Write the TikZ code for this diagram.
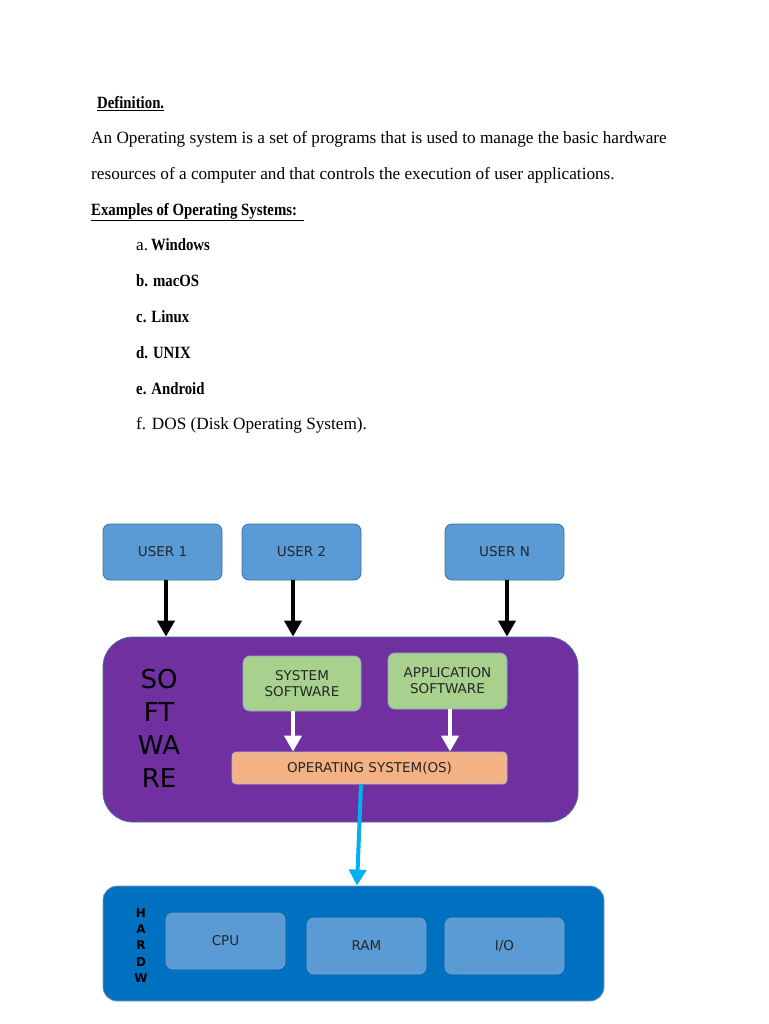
\documentclass[tikz,border=0pt]{standalone}
\usepackage{fontspec}
\setmainfont{Liberation Serif}
\newfontfamily\dv{DejaVu Sans}
\usetikzlibrary{arrows.meta}
\definecolor{userfill}{HTML}{5B9BD5}
\definecolor{userdraw}{HTML}{41719C}
\definecolor{swfill}{HTML}{7030A0}
\definecolor{greenfill}{HTML}{A9D18E}
\definecolor{osfill}{HTML}{F4B183}
\definecolor{hwfill}{HTML}{0070C0}
\definecolor{cyanarrow}{HTML}{00B0F0}
\newcommand{\rsz}{\fontsize{17.2}{20}\selectfont}
\newcommand{\nb}[1]{\scalebox{0.86}[1]{\textbf{#1}}}
\tikzset{
  body/.style={anchor=base west, inner sep=0pt, font=\rsz},
  blk/.style={rectangle, rounded corners=7pt, draw=userdraw, line width=0.8pt, inner sep=0pt, font=\dv\fontsize{13.5}{16}\selectfont, align=center, text=black!85},
  userbox/.style={blk, fill=userfill, minimum width=119pt, minimum height=56pt},
  greenbox/.style={blk, fill=greenfill, draw=userdraw!60, minimum width=118pt, minimum height=55pt},
  blackarrow/.style={line width=4pt, -{Triangle[length=16pt,width=17pt]}},
  whitearrow/.style={line width=4pt, white, -{Triangle[length=16pt,width=17pt]}},
  cyanarr/.style={line width=4pt, cyanarrow, -{Triangle[length=16pt,width=17pt]}},
}
\begin{document}
\begin{tikzpicture}[x=1pt,y=-1pt]
\useasboundingbox[fill=white] (0,0) rectangle (768,1024);
% text
\node[body] (def) at (97,108.5) {\nb{\underline{Definition.}}};
\node[body] (p1) at (91,143.5) {An Operating system is a set of programs that is used to manage the basic hardware};
\node[body] (p2) at (91,179.5) {resources of a computer and that controls the execution of user applications.};
\node[body] (ex) at (91,215) {\nb{\underline{Examples of Operating Systems:\ \ }}};
\node[body] (la) at (136,251) {a.\,\nb{Windows}};
\node[body] (lb) at (136,286) {\nb{b. macOS}};
\node[body] (lc) at (136,322) {\nb{c. Linux}};
\node[body] (ld) at (136,358) {\nb{d. UNIX}};
\node[body] (le) at (136,394) {\nb{e. Android}};
\node[body] (lf) at (136,429) {f. DOS (Disk Operating System).};
% users
\node[userbox] (u1) at (162.5,552) {USER 1};
\node[userbox] (u2) at (301.5,552) {USER 2};
\node[userbox] (un) at (504.5,552) {USER N};
% software
\node[blk, fill=swfill, draw=userdraw, rounded corners=30pt, minimum width=475pt, minimum height=185pt] (sw) at (340.5,729.5) {};
\node[font=\dv\fontsize{26}{33}\selectfont, align=center, inner sep=0pt] (swt) at (159,728) {SO\\FT\\WA\\RE};
\node[greenbox] (sys) at (302,683.5) {SYSTEM\\SOFTWARE};
\node[greenbox, minimum width=119pt, minimum height=56pt] (app) at (447.5,681) {APPLICATION\\SOFTWARE};
\node[blk, fill=osfill, draw=userdraw!50, rounded corners=4pt, minimum width=275pt, minimum height=32pt] (os) at (369.5,768) {OPERATING SYSTEM(OS)};
% hardware
\node[blk, fill=hwfill, draw=userdraw!70, rounded corners=14pt, minimum width=501pt, minimum height=115pt] (hw) at (353.5,943.5) {};
\node[font=\dv\bfseries\fontsize{12}{16.3}\selectfont, align=center, inner sep=0pt] (hwt) at (141,945.5) {H\\A\\R\\D\\W};
\node[userbox, draw=userdraw!70] (cpu) at (225.5,941) {CPU};
\node[userbox, draw=userdraw!70] (ram) at (366.5,946) {RAM};
\node[userbox, draw=userdraw!70] (io) at (504.5,946) {I/O};
% arrows
\draw[blackarrow] ([xshift=3.5pt]u1.south) -- ([xshift=3.5pt]u1.south |- sw.north);
\draw[blackarrow] ([xshift=-8.5pt]u2.south) -- ([xshift=-8.5pt]u2.south |- sw.north);
\draw[blackarrow] ([xshift=2.5pt]un.south) -- ([xshift=2.5pt]un.south |- sw.north);
\draw[whitearrow] ([xshift=-9pt]sys.south) -- ([xshift=-9pt]sys.south |- os.north);
\draw[whitearrow] ([xshift=2.5pt]app.south) -- ([xshift=2.5pt]app.south |- os.north);
\draw[cyanarr] ([xshift=-8.5pt]os.south) -- ([xshift=3.5pt]hw.north);
\end{tikzpicture}
\end{document}
